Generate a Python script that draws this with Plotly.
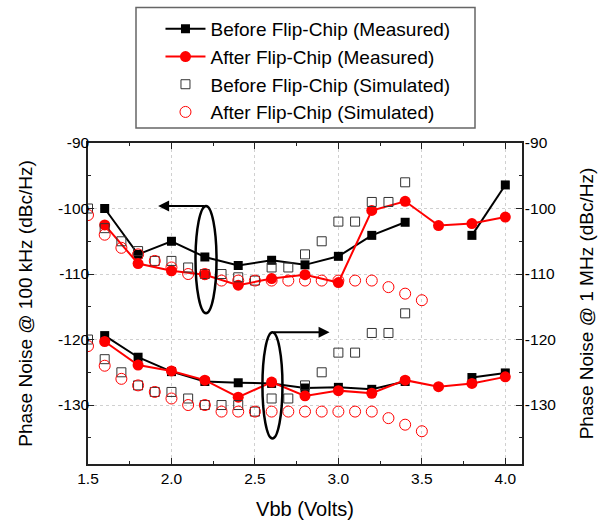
import plotly.graph_objects as go

# Supply voltage sweep points
vbb_meas = [1.6, 1.8, 2.0, 2.2, 2.4, 2.6, 2.8, 3.0, 3.2, 3.4, 3.6, 3.8, 4.0]
vbb_sim_sq = [1.5, 1.6, 1.7, 1.8, 1.9, 2.0, 2.1, 2.2, 2.3, 2.4, 2.5, 2.6, 2.7,
              2.8, 2.9, 3.0, 3.1, 3.2, 3.3, 3.4]
vbb_sim_ci = vbb_sim_sq + [3.5]

# Phase noise @ 100 kHz offset (dBc/Hz)
pn100k_before_meas = [-100, -107, -105, -107.4, -108.7, -107.9, -108.6, -107.3,
                      -104.1, -102.1, None, -104.1, -96.4]
pn100k_after_meas = [-102.5, -108.4, -109.5, -110.1, -111.7, -110.7, -110.1,
                     -111.3, -100.3, -98.9, -102.6, -102.3, -101.3]
pn100k_before_sim = [-100, -103, -105, -106.5, -108, -108, -109, -110, -110,
                     -110.5, -111, -109, -109, -107, -105, -102, -102, -99, -99, -96]
pn100k_after_sim = [-101, -104, -106, -107, -108, -109, -110, -110, -111, -111,
                    -111, -111, -111, -111, -111, -111, -111, -111, -112, -113, -114]

# Phase noise @ 1 MHz offset (dBc/Hz)
pn1m_before_meas = [-119.4, -122.7, -124.9, -126.4, -126.6, -126.7, -127.4,
                    -127.3, -127.6, -126.4, None, -125.8, -125.1]
pn1m_after_meas = [-120.3, -123.9, -124.8, -126.2, -128.8, -126.5, -128.6,
                   -127.8, -128.2, -126.2, -127.2, -126.7, -125.7]
pn1m_before_sim = [-120, -123, -125, -127, -128, -128, -129, -130, -130, -130,
                   -131, -129, -129, -127, -125, -122, -122, -119, -119, -116]
pn1m_after_sim = [-121, -124, -126, -127, -128, -129, -130, -130, -131, -131,
                  -131, -131, -131, -131, -131, -131, -131, -131, -132, -133, -134]

names = ["Before Flip-Chip (Measured)", "After Flip-Chip (Measured)",
         "Before Flip-Chip (Simulated)", "After Flip-Chip (Simulated)"]

x_ticks = [1.5, 2.0, 2.5, 3.0, 3.5, 4.0]
x_ticktext = ["1.5", "2.0", "2.5", "3.0", "3.5", "4.0"]
y_ticks = [-90, -100, -110, -120, -130]
y_ticktext = ["-90", "-100", "-110", "-120", "-130"]

FONT = "Liberation Sans, Arial, Helvetica, sans-serif"
BLACK = "#000000"
RED = "#ff0000"

fig = go.Figure()


def add_set(yaxis, before_meas, after_meas, before_sim, after_sim, show):
    fig.add_trace(go.Scatter(
        x=vbb_meas, y=before_meas, yaxis=yaxis, name=names[0], legendgroup="bm",
        showlegend=show, mode="lines+markers", connectgaps=False,
        line=dict(color=BLACK, width=2),
        marker=dict(symbol="square", size=9, color=BLACK)))
    fig.add_trace(go.Scatter(
        x=vbb_meas, y=after_meas, yaxis=yaxis, name=names[1], legendgroup="am",
        showlegend=show, mode="lines+markers",
        line=dict(color=RED, width=2),
        marker=dict(symbol="circle", size=11, color=RED)))
    fig.add_trace(go.Scatter(
        x=vbb_sim_sq, y=before_sim, yaxis=yaxis, name=names[2], legendgroup="bs",
        showlegend=show, mode="markers",
        marker=dict(symbol="square-open", size=9, color="#333333",
                    line=dict(width=1))))
    fig.add_trace(go.Scatter(
        x=vbb_sim_ci, y=after_sim, yaxis=yaxis, name=names[3], legendgroup="as",
        showlegend=show, mode="markers",
        marker=dict(symbol="circle-open", size=11, color=RED,
                    line=dict(width=1))))


add_set("y", pn100k_before_meas, pn100k_after_meas, pn100k_before_sim,
        pn100k_after_sim, True)
add_set("y2", pn1m_before_meas, pn1m_after_meas, pn1m_before_sim,
        pn1m_after_sim, False)

YRANGE = [-139, -90]
axis_common = dict(
    showline=True, linecolor="#222222", linewidth=1.5,
    ticks="inside", ticklen=6, tickwidth=1.2, tickcolor="#222222",
    tickfont=dict(family=FONT, size=15.5, color=BLACK),
    zeroline=False, automargin=False,
)

fig.update_layout(
    width=610, height=520,
    margin=dict(l=88, r=88, t=142, b=56),
    paper_bgcolor="white", plot_bgcolor="white",
    font=dict(family=FONT, color=BLACK),
    xaxis=dict(
        range=[1.5, 4.1], tickvals=x_ticks, ticktext=x_ticktext,
        mirror="ticks", ticklabelstandoff=0,
        minor=dict(dtick=0.25, tick0=1.5, ticks="inside", ticklen=3,
                   tickcolor="#222222", showgrid=False),
        showgrid=True, gridcolor="#d0d0d0", gridwidth=1, griddash="3px,3px",
        title=dict(text="Vbb (Volts)", font=dict(family=FONT, size=20),
                   standoff=20),
        **axis_common),
    yaxis=dict(
        range=YRANGE, tickvals=y_ticks, ticktext=y_ticktext,
        ticklabelstandoff=-6,
        minor=dict(dtick=5, tick0=-90, ticks="inside", ticklen=3,
                   tickcolor="#222222", showgrid=False),
        showgrid=True, gridcolor="#d0d0d0", gridwidth=1, griddash="3px,3px",
        title=dict(text="Phase Noise @ 100 kHz (dBc/Hz)",
                   font=dict(family=FONT, size=19), standoff=20),
        **axis_common),
    yaxis2=dict(
        range=YRANGE, tickvals=y_ticks, ticktext=y_ticktext,
        ticklabelstandoff=-2,
        overlaying="y", side="right", showgrid=False,
        minor=dict(dtick=5, tick0=-90, ticks="inside", ticklen=3,
                   tickcolor="#222222"),
        title=dict(text="Phase Noise @ 1 MHz (dBc/Hz)",
                   font=dict(family=FONT, size=19), standoff=24),
        **axis_common),
    legend=dict(
        x=0.167, y=1.41, xanchor="left", yanchor="top",
        bgcolor="rgba(0,0,0,0)", borderwidth=0,
        font=dict(family=FONT, size=19, color=BLACK),
        tracegroupgap=0, itemwidth=40,
    ),
    showlegend=True,
)

# Legend frame
fig.add_shape(type="rect", xref="paper", yref="paper",
              x0=(136 - 88) / 434, x1=(475 - 88) / 434,
              y0=(464 - 127) / 322, y1=(464 - 6) / 322,
              line=dict(color="#666666", width=1.5), fillcolor="rgba(0,0,0,0)")

# Ellipses grouping each data set with its axis
fig.add_shape(type="circle", xref="x", yref="y",
              x0=2.144, x1=2.27, y0=-116.0, y1=-99.6,
              line=dict(color=BLACK, width=2.5))
fig.add_shape(type="circle", xref="x", yref="y",
              x0=2.545, x1=2.665, y0=-135.1, y1=-118.9,
              line=dict(color=BLACK, width=2.5))

# Arrows pointing to the relevant y-axis
fig.add_annotation(x=1.92, y=-99.6, ax=2.207, ay=-99.6, xref="x", yref="y",
                   axref="x", ayref="y", text="", showarrow=True,
                   arrowhead=2, arrowsize=1.1, arrowwidth=2, arrowcolor=BLACK)
fig.add_annotation(x=2.947, y=-118.9, ax=2.605, ay=-118.9, xref="x", yref="y",
                   axref="x", ayref="y", text="", showarrow=True,
                   arrowhead=2, arrowsize=1.1, arrowwidth=2, arrowcolor=BLACK)

fig.write_html("out.html")
